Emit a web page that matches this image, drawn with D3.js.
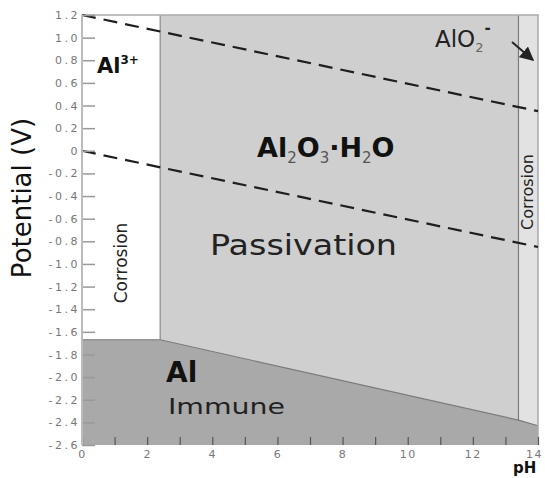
<!DOCTYPE html>
<html>
<head>
<meta charset="utf-8">
<script src="https://cdn.jsdelivr.net/npm/d3@7"></script>
<style>
body { margin: 0; background: #fff; }
svg { display: block; }
text { font-family: "DejaVu Sans", sans-serif; }
</style>
</head>
<body>
<svg id="chart" width="545" height="478"></svg>
<script>
// Pourbaix diagram for aluminium (pH vs potential)
var phTicks = [0,1,2,3,4,5,6,7,8,9,10,11,12,13,14];
var potentialTicks = [1.2,1.0,0.8,0.6,0.4,0.2,0,-0.2,-0.4,-0.6,-0.8,-1.0,-1.2,-1.4,-1.6,-1.8,-2.0,-2.2,-2.4,-2.6];
var immuneLine = [[0,-1.67],[2.4,-1.67],[13.4,-2.38],[14,-2.43]];
var oxygenLine = [[0,1.2],[14,0.35]];
var hydrogenLine = [[0,0],[14,-0.85]];
var al3Limit = 2.4;   // pH of Al3+ / Al2O3 boundary
var alo2Limit = 13.4; // pH of Al2O3 / AlO2- boundary

var svg = d3.select('#chart');
var x = d3.scaleLinear().domain([0,14]).range([82,538]);
var y = d3.scaleLinear().domain([-2.6,1.2]).range([445,15]);
var line = d3.line().x(function(d){return x(d[0]);}).y(function(d){return y(d[1]);});

function yAt(ph) {
    for (var i = 1; i < immuneLine.length; i++) {
        var a = immuneLine[i-1], b = immuneLine[i];
        if (ph <= b[0]) return a[1] + (b[1]-a[1])*(ph-a[0])/(b[0]-a[0]);
    }
    return immuneLine[immuneLine.length-1][1];
}

var defs = svg.append('defs');
defs.append('marker')
    .attr('id','arrow').attr('viewBox','0 0 10 10')
    .attr('refX',9).attr('refY',5)
    .attr('markerWidth',7).attr('markerHeight',7)
    .attr('orient','auto')
    .append('path').attr('d','M0,0 L10,5 L0,10 z').attr('fill','#222');

// regions
//passivation
svg.append('path')
    .attr('d', line([[al3Limit,1.2],[alo2Limit,1.2],[alo2Limit,yAt(alo2Limit)],[al3Limit,yAt(al3Limit)]]) + 'Z')
    .attr('fill','#cfcfcf');
//AlO2- corrosion
svg.append('path')
    .attr('d', line([[alo2Limit,1.2],[14,1.2],[14,yAt(14)],[alo2Limit,yAt(alo2Limit)]]) + 'Z')
    .attr('fill','#e2e2e2');
//immune
svg.append('path')
    .attr('d', line(immuneLine.concat([[14,-2.6],[0,-2.6]])) + 'Z')
    .attr('fill','#a9a9a9');

// boundaries
svg.append('path').attr('d', line(immuneLine))
    .attr('fill','none').attr('stroke','#7a7a7a').attr('stroke-width',1.2);
svg.append('path').attr('d', line([[al3Limit,1.2],[al3Limit,yAt(al3Limit)]]))
    .attr('fill','none').attr('stroke','#8a8a8a').attr('stroke-width',1.2);
svg.append('path').attr('d', line([[alo2Limit,1.2],[alo2Limit,yAt(alo2Limit)]]))
    .attr('fill','none').attr('stroke','#7a7a7a').attr('stroke-width',1.2);

// frame
svg.append('path').attr('d', line([[0,1.2],[14,1.2],[14,-2.6]]))
    .attr('fill','none').attr('stroke','#aaa').attr('stroke-width',1.5);

// water lines
[oxygenLine, hydrogenLine].forEach(function(l){
    svg.append('path').attr('d', line(l))
        .attr('fill','none').attr('stroke','#1e1e1e')
        .attr('stroke-width',2.2).attr('stroke-dasharray','14,8');
});

// axes
var yAxis = d3.axisLeft(y).tickValues(potentialTicks).tickSize(-13).tickPadding(2)
    .tickFormat(function(d){ return d === 0 ? '0' : d.toFixed(1); });
var gy = svg.append('g').attr('transform','translate(' + x(0) + ',0)').call(yAxis);
gy.select('.domain').remove();
gy.selectAll('line').attr('stroke','#999').attr('stroke-width',1.5);
gy.selectAll('text').attr('fill','#777').attr('font-size',11).attr('letter-spacing','2.5px');

var xAxis = d3.axisBottom(x).tickValues(phTicks).tickSize(-8).tickPadding(5)
    .tickFormat(function(d){ return d % 2 === 0 ? d : ''; });
var gx = svg.append('g').attr('transform','translate(0,' + y(-2.6) + ')').call(xAxis);
gx.select('.domain').remove();
gx.selectAll('line').attr('stroke','#555').attr('stroke-width',1.2);
gx.selectAll('text').attr('fill','#777').attr('font-size',11).attr('letter-spacing','1.5px');
gx.selectAll('.tick').filter(function(d){ return d === 14; }).select('text').attr('dx', -4);

svg.append('line')
    .attr('x1',x(0)).attr('x2',x(0)).attr('y1',y(1.2)).attr('y2',y(-2.6))
    .attr('stroke','#bbb').attr('stroke-width',2);

// axis titles
svg.append('text')
    .attr('transform','translate(31,198) rotate(-90)')
    .attr('text-anchor','middle').attr('font-family','Liberation Sans, sans-serif')
    .attr('font-size',26).attr('fill','#111')
    .text('Potential (V)');
svg.append('text')
    .attr('x',513).attr('y',473)
    .attr('font-weight','bold').attr('font-size',15).attr('fill','#111')
    .text('pH');

// labels
var al3 = svg.append('text').attr('x',97).attr('y',73)
    .attr('font-weight','bold').attr('font-size',21).attr('fill','#111');
al3.append('tspan').text('Al');
al3.append('tspan').attr('font-size',12).attr('dy',-9).text('3+');

var alo2 = svg.append('text').attr('x',435).attr('y',47)
    .attr('font-size',23).attr('fill','#222');
alo2.append('tspan').text('AlO');
alo2.append('tspan').attr('font-size',13).attr('dy',5).attr('fill','#666').text('2');
alo2.append('tspan').attr('font-size',15).attr('dy',-19).attr('dx',1).attr('font-weight','bold').text('-');

svg.append('line')
    .attr('x1',512).attr('y1',42).attr('x2',533).attr('y2',60)
    .attr('stroke','#222').attr('stroke-width',2)
    .attr('marker-end','url(#arrow)');

var oxide = svg.append('text').attr('x',257).attr('y',157)
    .attr('font-weight','bold').attr('font-size',27).attr('fill','#111');
oxide.append('tspan').text('Al');
oxide.append('tspan').attr('font-size',15).attr('dy',6).attr('font-weight','normal').attr('fill','#555').text('2');
oxide.append('tspan').attr('dy',-6).text('O');
oxide.append('tspan').attr('font-size',15).attr('dy',6).attr('font-weight','normal').attr('fill','#555').text('3');
oxide.append('tspan').attr('dy',-6).text('·H');
oxide.append('tspan').attr('font-size',15).attr('dy',6).attr('font-weight','normal').attr('fill','#555').text('2');
oxide.append('tspan').attr('dy',-6).text('O');

svg.append('text').attr('x',210).attr('y',255)
    .attr('font-size',28).attr('fill','#222')
    .attr('textLength',187).attr('lengthAdjust','spacingAndGlyphs')
    .text('Passivation');

svg.append('text')
    .attr('transform','translate(127,263) rotate(-90)')
    .attr('text-anchor','middle').attr('font-family','Liberation Sans, sans-serif')
    .attr('font-size',17).attr('fill','#222')
    .text('Corrosion');
svg.append('text')
    .attr('transform','translate(533,192) rotate(-90)')
    .attr('text-anchor','middle').attr('font-family','Liberation Sans, sans-serif')
    .attr('font-size',16).attr('fill','#222')
    .text('Corrosion');

svg.append('text').attr('x',166).attr('y',382)
    .attr('font-weight','bold').attr('font-size',28).attr('fill','#111')
    .text('Al');
svg.append('text').attr('x',168).attr('y',414)
    .attr('font-size',22).attr('fill','#222')
    .attr('textLength',117).attr('lengthAdjust','spacingAndGlyphs')
    .text('Immune');
</script>
</body>
</html>
